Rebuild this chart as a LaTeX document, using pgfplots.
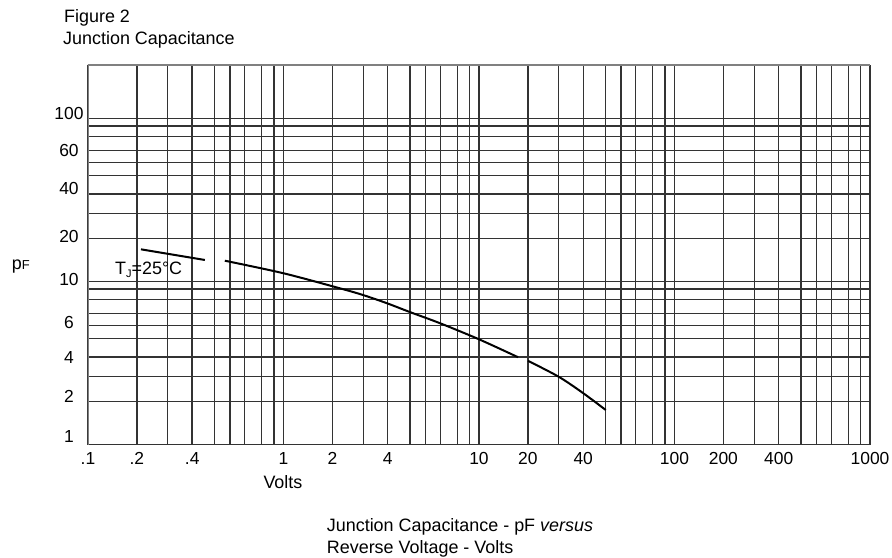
\documentclass[border=0pt]{standalone}
\usepackage{fontspec}
\setmainfont{Liberation Sans}
\usepackage{pgfplots}
\pgfplotsset{compat=1.18}
\begin{document}
\begin{tikzpicture}
\path[use as bounding box] (0bp,0bp) rectangle (892bp,558bp);
\begin{axis}[
  at={(88bp,113.3bp)}, anchor=south west,
  width=782bp, height=379.7bp, scale only axis,
  xmode=log, ymode=log,
  xmin=0.1, xmax=1000, ymin=1, ymax=213.5,
  xtick={0.1,0.1778,0.2559,0.3412,0.4446,0.5333,0.6339,0.7745,0.8933,1,1.778,2.559,3.412,4.446,5.333,6.339,7.745,8.933,10,17.78,25.59,34.12,44.46,53.33,63.39,77.45,89.33,100,177.8,255.9,341.2,444.6,533.3,633.9,774.5,893.3,1000},
  xticklabels={.1,.2,,.4,,,,,,1,2,,4,,,,,,10,20,,40,,,,,,100,200,,400,,,,,,1000},
  ytick={1,1.841,2.630,3.443,4.498,5.383,6.397,7.745,9.016,10,18.41,26.30,34.43,44.98,53.83,63.97,77.45,90.16,100},
  yticklabels={\raisebox{8bp}{1},\raisebox{5bp}{2},,4,,\raisebox{3.5bp}{6},,,,\raisebox{2bp}{10},\raisebox{2bp}{20},,\raisebox{6bp}{40},,\raisebox{12bp}{60},,,,\raisebox{5bp}{100}},
  major tick length=0pt,
  grid=major,
  major grid style={draw=black!80, line width=1.4bp},
  axis line style={draw=none},
  tick label style={font=\fontsize{17.5}{20}\selectfont},
  xticklabel style={anchor=base, yshift=-20.3bp, inner sep=0pt},
  yticklabel style={anchor=base, xshift=-19bp, yshift=-6.3bp, inner sep=0pt},
]
\addplot[black, line width=2bp] coordinates {(0.1866,15.80) (0.396,13.59)};
\addplot[black, line width=2bp, smooth] coordinates {(0.501,13.45) (1.001,11.26) (1.942,9.11) (2.556,8.28) (3.389,7.37) (4.465,6.49) (6.325,5.56) (10.01,4.43) (15.85,3.44)};
\addplot[black, line width=2bp, smooth] coordinates {(17.82,3.27) (25.59,2.61) (33.95,2.08) (44.5,1.633)};
\draw[black!50, line width=1.5bp] (rel axis cs:0,0) -- (rel axis cs:0,1) -- (rel axis cs:1,1);
\end{axis}
\node[anchor=base west, inner sep=0pt, font=\fontsize{18}{20}\selectfont] at (64bp,535.3bp) {Figure 2};
\node[anchor=base west, inner sep=0pt, font=\fontsize{18}{20}\selectfont] at (63bp,513.7bp) {Junction Capacitance};
\node[anchor=base west, inner sep=0pt, font=\fontsize{18}{20}\selectfont] at (11.7bp,288bp) {p{\fontsize{13}{14}\selectfont F}};
\node[anchor=base west, inner sep=0pt, font=\fontsize{18}{20}\selectfont] at (115bp,283bp) {T\raisebox{-3bp}{\fontsize{11}{12}\selectfont J}=25°C};
\node[anchor=base west, inner sep=0pt, font=\fontsize{18}{20}\selectfont] at (263.3bp,69.7bp) {Volts};
\node[anchor=base west, inner sep=0pt, font=\fontsize{18}{20}\selectfont] at (326.7bp,27bp) {Junction Capacitance - pF \textit{versus}};
\node[anchor=base west, inner sep=0pt, font=\fontsize{18}{20}\selectfont] at (326.7bp,4.7bp) {Reverse Voltage - Volts};
\end{tikzpicture}
\end{document}
